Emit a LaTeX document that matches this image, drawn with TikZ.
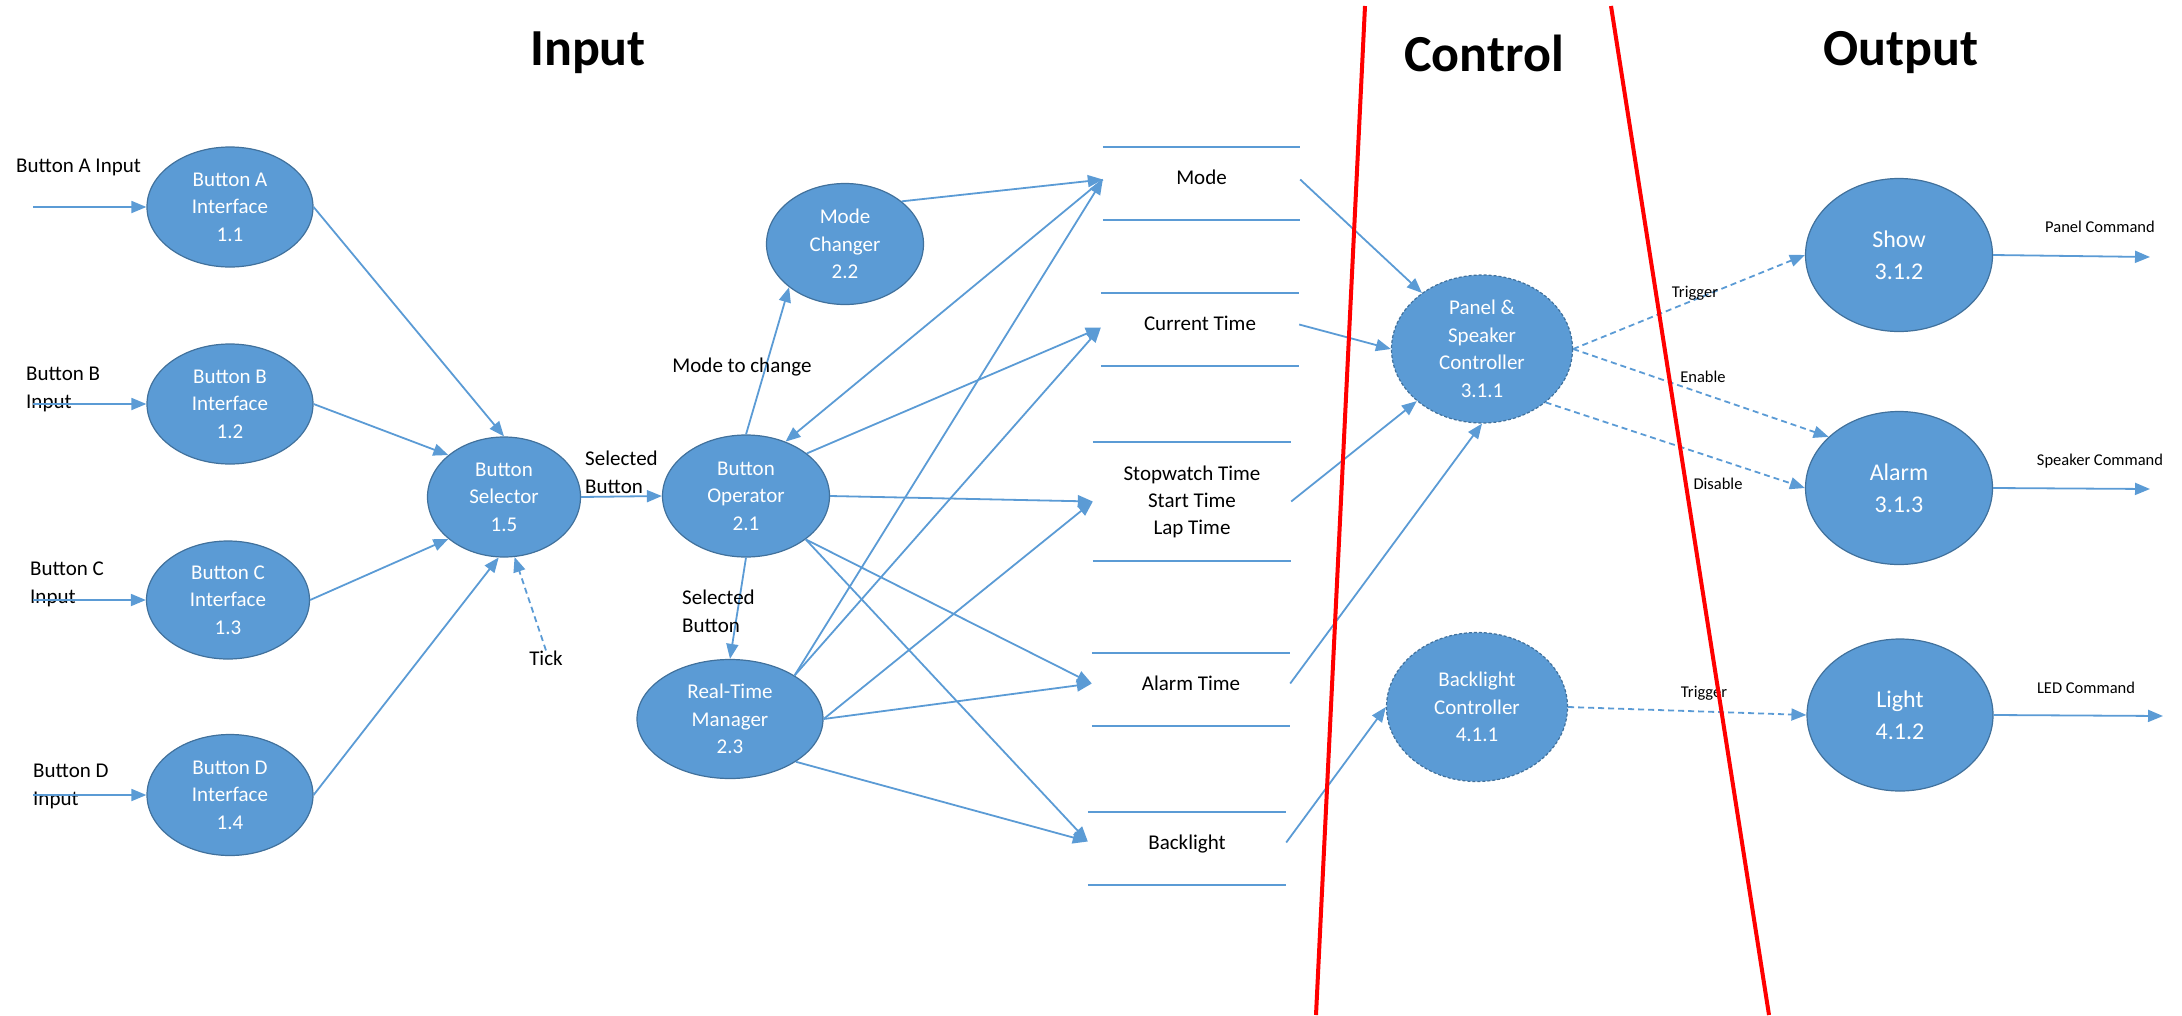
\documentclass[tikz,border=0pt]{standalone}
\usepackage{fontspec}
\setmainfont{Carlito}
\usetikzlibrary{arrows.meta,shapes.geometric}
\definecolor{fillblue}{HTML}{5B9BD5}
\definecolor{edgeblue}{HTML}{41719C}
\definecolor{lineblue}{HTML}{5B9BD5}
\newcommand{\lowdepth}{\rule[-13pt]{0pt}{13pt}}
\begin{document}
\begin{tikzpicture}[x=1pt,y=-1pt,
  proc/.style={ellipse, fill=fillblue, draw=edgeblue, line width=1.2pt, inner sep=0pt, text=white, align=center, font=\fontsize{21}{27.5}\selectfont},
  procB/.style={proc, font=\fontsize{24}{32}\selectfont},
  ctrl/.style={proc, dash pattern=on 3pt off 2pt},
  store/.style={inner sep=0pt, minimum width=198pt, minimum height=73pt, align=center, font=\fontsize{21}{27}\selectfont},
  sline/.style={draw=lineblue, line width=2pt},
  arr/.style={draw=lineblue, line width=1.8pt, -{Triangle[length=15pt,width=12pt]}},
  darr/.style={arr, dash pattern=on 6pt off 4pt},
  lbl/.style={font=\fontsize{21}{28}\selectfont, align=left, inner sep=0pt},
  slbl/.style={font=\fontsize{16.5}{20}\selectfont, inner sep=0pt},
  ttl/.style={font=\fontsize{52}{60}\selectfont\bfseries, inner sep=0pt},
  redline/.style={draw=red, line width=4pt}
]
\useasboundingbox (0,0) rectangle (2182,1015);

% titles
\node[ttl] (tIn) at (588,53) {Input};
\node[ttl] (tCtl) at (1484,53) {Control};
\node[ttl] (tOut) at (1901,53) {Output};

% input processes
\node[proc, minimum width=166pt, minimum height=120pt] (A) at (230,207) {Button A\\Interface\\1.1};
\node[proc, minimum width=166pt, minimum height=120pt] (B) at (230,404) {Button B\\Interface\\1.2};
\node[proc, minimum width=163pt, minimum height=118pt] (C) at (228,600) {Button C\\Interface\\1.3};
\node[proc, minimum width=166pt, minimum height=121pt] (D) at (230,795) {Button D\\Interface\\1.4};
\node[proc, minimum width=153pt, minimum height=120pt] (sel) at (504,497) {Button\\Selector\\1.5};
\node[proc, minimum width=167pt, minimum height=122pt] (op) at (746,496) {Button\\Operator\\2.1};
\node[proc, minimum width=157pt, minimum height=121pt] (mc) at (845,244) {Mode\\Changer\\2.2};
\node[proc, minimum width=186pt, minimum height=119pt] (rt) at (730,719) {Real-Time\\Manager\\2.3};

% control processes
\node[ctrl, minimum width=181pt, minimum height=148pt] (panel) at (1482,349) {Panel \&\\Speaker\\Controller\\3.1.1};
\node[ctrl, minimum width=181pt, minimum height=149pt] (bc) at (1477,707) {Backlight\\Controller\\4.1.1};

% output processes
\node[procB, minimum width=187pt, minimum height=153pt] (show) at (1899,255) {Show\\3.1.2};
\node[procB, minimum width=187pt, minimum height=153pt] (alarm) at (1899,488) {Alarm\\3.1.3};
\node[procB, minimum width=186pt, minimum height=152pt] (light) at (1900,715) {Light\\4.1.2};

% data stores
\node[store, minimum width=197pt] (mode) at (1201.5,183.5) {Mode\lowdepth};
\node[store] (ctime) at (1200,329.5) {Current Time\lowdepth};
\node[store, minimum height=119pt] (stopw) at (1192,501.5) {Stopwatch Time\\Start Time\\Lap Time};
\node[store] (alarmt) at (1191,689.5) {Alarm Time\lowdepth};
\node[store] (backl) at (1187,848.5) {Backlight\lowdepth};
\foreach \s in {mode,ctime,stopw,alarmt,backl}{
  \draw[sline] (\s.north west) -- (\s.north east);
  \draw[sline] (\s.south west) -- (\s.south east);
}

% input labels and arrows
\node[lbl, anchor=west] (labA) at (16,167) {Button A Input};
\node[lbl, anchor=west] (labB) at (26,389) {Button B\\Input};
\node[lbl, anchor=west] (labC) at (30,584) {Button C\\Input};
\node[lbl, anchor=west] (labD) at (33,786) {Button D\\Input};
\coordinate (inA) at (33,207);
\coordinate (inB) at (33,404);
\coordinate (inC) at (33,600);
\coordinate (inD) at (33,795);
\draw[arr] (inA) -- (A.west);
\draw[arr] (inB) -- (B.west);
\draw[arr] (inC) -- (C.west);
\draw[arr] (inD) -- (D.west);

\draw[arr] (A.east) -- (sel.north);
\draw[arr] (B.east) -- (sel.143);
\draw[arr] (C.east) -- (sel.217);
\draw[arr] (D.east) -- (sel.265);

\node[lbl] (tick) at (546,658) {Tick};
\draw[darr] (tick.north) -- (sel.-80);

\draw[arr] (sel.east) -- (op.west);
\node[lbl, anchor=west] (labSel) at (585,472) {Selected\\Button};

% operator and managers
\draw[arr] (op.north) -- (mc.south west);
\node[lbl] (labMC) at (742,367) {Mode to change};
\draw[arr] (op.south) -- (rt.north);
\node[lbl, anchor=west] (labSel2) at (682,611) {Selected\\Button};

\draw[arr] (mc.37) -- ([yshift=4pt]mode.west);
\draw[arr] ([yshift=4pt]mode.west) -- (op.54);
\draw[arr] (op.35) -- ([yshift=2pt]ctime.west);
\draw[arr] (op.east) -- (stopw.west);
\draw[arr] (op.-36) -- ([yshift=6pt]alarmt.west);
\draw[arr] (op.-36) -- ([yshift=7pt]backl.west);

\draw[arr] (rt.34) -- ([yshift=4pt]mode.west);
\draw[arr] (rt.34) -- ([yshift=2pt]ctime.west);
\draw[arr] (rt.east) -- (stopw.west);
\draw[arr] (rt.east) -- ([yshift=6pt]alarmt.west);
\draw[arr] (rt.-33) -- ([yshift=7pt]backl.west);

% stores to controllers
\draw[arr] ([yshift=4pt]mode.east) -- (panel);
\draw[arr] ([yshift=5pt]ctime.east) -- (panel.west);
\draw[arr] (stopw.east) -- (panel);
\draw[arr] ([yshift=6pt]alarmt.east) -- (panel.south);
\draw[arr] ([yshift=6pt]backl.east) -- (bc.west);

% controllers to outputs
\draw[darr] (panel.east) -- (show.west);
\node[slbl] (lTrig1) at (1695,293) {Trigger};
\draw[darr] (panel.east) -- (alarm.144);
\node[slbl] (lEn) at (1703,377) {Enable};
\draw[darr] (panel.-40) -- (alarm.west);
\node[slbl] (lDis) at (1718,484) {Disable};
\draw[darr] (bc.east) -- (light.west);
\node[slbl] (lTrig2) at (1704,693) {Trigger};

% outputs
\coordinate (outS) at (2150,257);
\coordinate (outA) at (2150,489);
\coordinate (outL) at (2163,716);
\draw[arr] (show.east) -- (outS);
\draw[arr] (alarm.east) -- (outA);
\draw[arr] (light.east) -- (outL);
\node[slbl] (lPC) at (2100,227) {Panel Command};
\node[slbl] (lSC) at (2100,461) {Speaker Command};
\node[slbl] (lLED) at (2086,688) {LED Command};

% red separators
\draw[redline] (1365,6) -- (1316,1015);
\draw[redline] (1611,6) -- (1769,1015);
\end{tikzpicture}
\end{document}
